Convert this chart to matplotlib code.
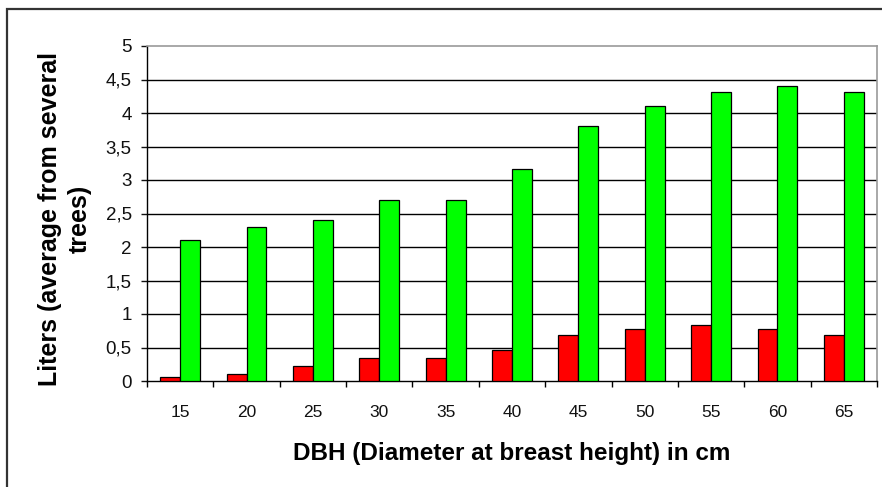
import matplotlib
matplotlib.use("Agg")
import matplotlib.pyplot as plt
import numpy as np
from matplotlib.patches import Rectangle
from matplotlib.ticker import FixedLocator, FuncFormatter

plt.rcParams["font.family"] = ["Liberation Sans", "DejaVu Sans"]

RED = "#ff0000"
GREEN = "#00ff00"

dbh = ["15", "20", "25", "30", "35", "40", "45", "50", "55", "60", "65"]
red_liters = [0.06, 0.11, 0.23, 0.35, 0.35, 0.47, 0.69, 0.78, 0.84, 0.78, 0.69]
green_liters = [2.1, 2.3, 2.4, 2.7, 2.7, 3.17, 3.8, 4.1, 4.31, 4.4, 4.31]
y_ticks = [0, 0.5, 1, 1.5, 2, 2.5, 3, 3.5, 4, 4.5, 5]

W, H = 882, 487
fig = plt.figure(figsize=(W / 100, H / 100), dpi=100)

# outer chart frame (runs off the right and bottom edges)
fig.patches.append(Rectangle((7 / W, -0.1), 1.2, (H - 9) / H + 0.1, transform=fig.transFigure,
                             fill=False, edgecolor="#333333", linewidth=1.6))

ax = fig.add_axes([147 / W, 1 - 381 / H, (877 - 147) / W, (381 - 46) / H])

x = np.arange(len(dbh))
bw = 0.3
ax.bar(x - bw / 2, red_liters, width=bw, color=RED, edgecolor="black", linewidth=0.9, zorder=3)
ax.bar(x + bw / 2, green_liters, width=bw, color=GREEN, edgecolor="black", linewidth=0.9, zorder=3)

ax.set_xlim(-0.5, len(dbh) - 0.5)
ax.set_ylim(0, 5)
ax.set_yticks(y_ticks)
ax.yaxis.set_major_formatter(FuncFormatter(lambda v, p: f"{v:g}".replace(".", ",")))
ax.set_xticks(x)
ax.set_xticklabels(dbh)
ax.xaxis.set_minor_locator(FixedLocator(np.arange(-0.5, len(dbh), 1)))
ax.tick_params(axis="x", which="major", length=0, pad=17, labelsize=12.5, colors="#111111")
ax.tick_params(axis="x", which="minor", length=4, width=1, direction="out")
ax.tick_params(axis="y", length=4, width=1, direction="out", labelsize=13.5, pad=7, colors="#111111")

for t in y_ticks[1:-1]:
    ax.axhline(t, color="black", linewidth=1, zorder=1)

for side in ("top", "right"):
    ax.spines[side].set_color("#999999")
    ax.spines[side].set_linewidth(1.2)
for side in ("left", "bottom"):
    ax.spines[side].set_color("black")
    ax.spines[side].set_linewidth(1)

ax.set_xlabel("DBH (Diameter at breast height) in cm", fontsize=17.5, fontweight="bold", labelpad=16)
ax.set_ylabel("Liters (average from several\ntrees)", fontsize=18, fontweight="bold", linespacing=1.3)
ax.yaxis.set_label_coords(-0.076, 0.485)

fig.savefig("out.png", dpi=100)
